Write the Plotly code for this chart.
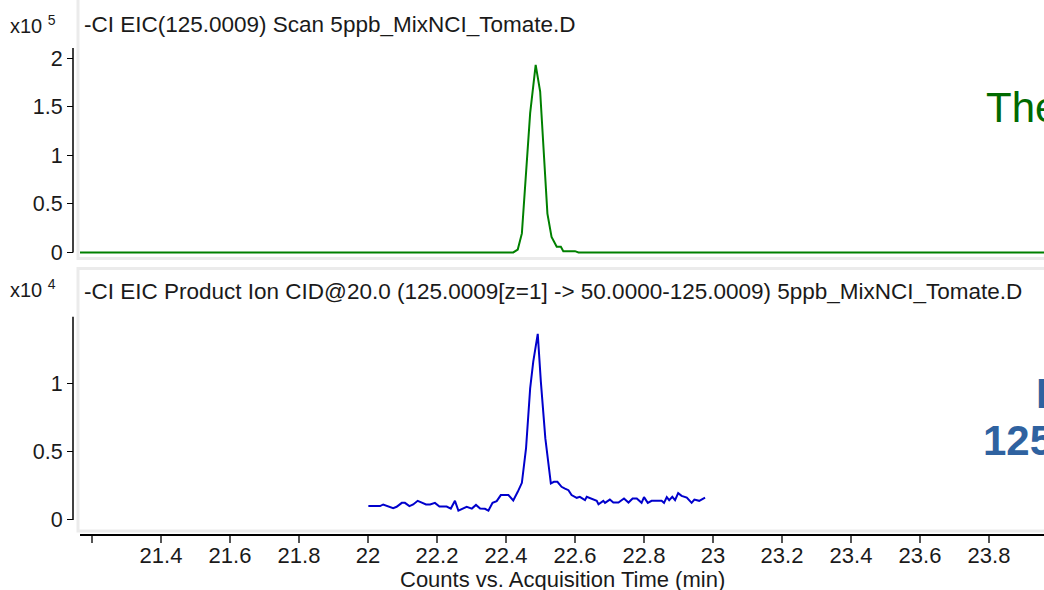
import plotly.graph_objects as go

# ---- data ----
# top: -CI EIC(125.0009) Scan (counts)
scan_time = [21.16, 22.421, 22.434, 22.446, 22.470, 22.486, 22.499, 22.520,
             22.532, 22.547, 22.559, 22.566, 22.600, 22.610, 24.0]
scan_counts = [0, 0, 3000, 19600, 143300, 193000, 165600, 40000,
               16000, 5800, 5800, 1300, 1300, 0, 0]

# bottom: -CI EIC Product Ion CID@20.0 (counts)
prod_time = [22.001, 22.035, 22.044, 22.059, 22.073, 22.083, 22.098, 22.107, 22.120, 22.131,
             22.144, 22.156, 22.168, 22.180, 22.194, 22.207, 22.228, 22.240, 22.252, 22.262,
             22.272, 22.286, 22.301, 22.313, 22.325, 22.339, 22.349, 22.361, 22.373, 22.385,
             22.407, 22.421, 22.434, 22.446, 22.458, 22.470, 22.479, 22.492, 22.501, 22.514,
             22.530, 22.539, 22.549, 22.561, 22.571, 22.581, 22.590, 22.605, 22.614, 22.629,
             22.634, 22.648, 22.663, 22.668, 22.682, 22.687, 22.701, 22.711, 22.726, 22.742,
             22.755, 22.767, 22.779, 22.793, 22.800, 22.811, 22.822, 22.851, 22.858, 22.866,
             22.873, 22.882, 22.890, 22.899, 22.909, 22.924, 22.938, 22.946, 22.960, 22.977]
prod_counts = [1010, 1010, 1130, 960, 860, 960, 1250, 1250, 1010, 1130,
               1400, 1270, 1130, 1130, 1250, 980, 980, 830, 1400, 680,
               790, 960, 830, 1100, 830, 810, 680, 1250, 1380, 1820,
               1820, 1420, 2060, 2720, 5240, 9650, 11620, 13650, 10150, 5980,
               2670, 2790, 2790, 2430, 2300, 2180, 1820, 1620, 1690, 1450,
               1690, 1570, 1400, 1150, 1400, 1250, 1490, 1270, 1270, 1570,
               1270, 1570, 1570, 1250, 1670, 1250, 1400, 1400, 1250, 1670,
               1450, 1690, 1450, 1960, 1760, 1640, 1250, 1490, 1400, 1640]

x_ticks = [21.2, 21.4, 21.6, 21.8, 22.0, 22.2, 22.4, 22.6, 22.8, 23.0, 23.2, 23.4, 23.6, 23.8]
x_tick_text = [" ", "21.4", "21.6", "21.8", "22", "22.2", "22.4", "22.6", "22.8", "23",
               "23.2", "23.4", "23.6", "23.8"]
top_ticks = [0, 50000, 100000, 150000, 200000]
top_tick_text = ["0", "0.5", "1", "1.5", "2"]
bot_ticks = [0, 5000, 10000]
bot_tick_text = ["0", "0.5", "1"]

top_title = "-CI EIC(125.0009) Scan 5ppb_MixNCI_Tomate.D"
bot_title = "-CI EIC Product Ion CID@20.0 (125.0009[z=1] -> 50.0000-125.0009) 5ppb_MixNCI_Tomate.D"
x_title = "Counts vs. Acquisition Time (min)"

# ---- layout in picture pixels ----
# the snapshot squeezes the page height a little, so the figure is drawn a bit taller
W, H = 1044, 590
H_FIG = 597
FONT = "Liberation Sans, Arial, sans-serif"
TXT = "#1a1a1a"


def px_x(p):
    return p / W


def px_y(p):
    return 1 - p / H


X_RANGE = [21.1652, 23.9594]
TOP_RANGE = [-7216, 210309]
BOT_RANGE = [-1029, 14926]

fig = go.Figure()
fig.add_trace(go.Scatter(x=scan_time, y=scan_counts, xaxis="x2", yaxis="y", mode="lines",
                         line=dict(color="#008000", width=2), hoverinfo="skip"))
fig.add_trace(go.Scatter(x=prod_time, y=prod_counts, xaxis="x", yaxis="y2", mode="lines",
                         line=dict(color="#0000cc", width=2), hoverinfo="skip"))

yax = dict(showgrid=False, zeroline=False, showline=False, ticks="outside", ticklen=6,
           tickcolor="#000", tickwidth=1, tickfont=dict(family=FONT, size=21.5, color=TXT),
           anchor="free", position=px_x(73), fixedrange=True)

fig.update_layout(
    width=W, height=H_FIG, margin=dict(l=0, r=0, t=0, b=0),
    paper_bgcolor="white", plot_bgcolor="rgba(0,0,0,0)", showlegend=False,
    xaxis=dict(domain=[px_x(80), 1], range=X_RANGE, anchor="y2", showgrid=False, zeroline=False,
               showline=True, linecolor="#000", linewidth=1.5, ticks="outside", ticklen=7,
               tickcolor="#555", tickwidth=1.5, tickvals=x_ticks, ticktext=x_tick_text,
               tickfont=dict(family=FONT, size=22, color=TXT), ticklabelstandoff=-6),
    xaxis2=dict(domain=[px_x(80), 1], range=X_RANGE, anchor="y", visible=False),
    yaxis=dict(domain=[px_y(258), px_y(47)], range=TOP_RANGE, tickvals=top_ticks,
               ticktext=top_tick_text, **yax),
    yaxis2=dict(domain=[px_y(532), px_y(315)], range=BOT_RANGE, tickvals=bot_ticks,
                ticktext=bot_tick_text, **yax),
)

# panel frames and y-axis lines
frame = dict(type="rect", xref="paper", yref="paper", line=dict(color="#ebebeb", width=3),
             fillcolor="rgba(0,0,0,0)", layer="below")
fig.add_shape(x0=px_x(78), x1=1.05, y0=px_y(257), y1=1.05, **frame)
fig.add_shape(x0=px_x(78), x1=1.05, y0=px_y(529), y1=px_y(267), **frame)
fig.add_shape(type="line", xref="paper", yref="y", x0=px_x(73), x1=px_x(73),
              y0=0, y1=TOP_RANGE[1], line=dict(color="#000", width=1.5))
fig.add_shape(type="line", xref="paper", yref="y2", x0=px_x(73), x1=px_x(73),
              y0=0, y1=BOT_RANGE[1], line=dict(color="#000", width=1.5))

ann = dict(xref="paper", yref="paper", showarrow=False, xanchor="left", yanchor="middle")
fig.add_annotation(x=px_x(8), y=px_y(23), text="x10 <sup>5</sup>",
                   font=dict(family=FONT, size=20, color=TXT), **ann)
fig.add_annotation(x=px_x(8), y=px_y(287), text="x10 <sup>4</sup>",
                   font=dict(family=FONT, size=20, color=TXT), **ann)
fig.add_annotation(x=px_x(82), y=px_y(23), text=top_title,
                   font=dict(family=FONT, size=22.5, color=TXT), **ann)
fig.add_annotation(x=px_x(82), y=px_y(290), text=bot_title,
                   font=dict(family=FONT, size=22.5, color=TXT), **ann)
fig.add_annotation(x=(px_x(80) + 1) / 2, y=px_y(578), text=x_title, xref="paper", yref="paper",
                   showarrow=False, xanchor="center", yanchor="middle",
                   font=dict(family=FONT, size=22, color=TXT))
# slide overlay text, cut at the right edge
fig.add_annotation(x=px_x(984), y=px_y(106), text="The",
                   font=dict(family=FONT, size=42, color="#006a00"), **ann)
fig.add_annotation(x=px_x(1034), y=px_y(392), text="<b>I</b>",
                   font=dict(family=FONT, size=42, color="#2f62a0"), **ann)
fig.add_annotation(x=px_x(981), y=px_y(439), text="<b>125</b>",
                   font=dict(family=FONT, size=42, color="#2f62a0"), **ann)

# no body margin, no scrollbars
page_css = (
    "var d=document.documentElement,b=document.body;"
    "[d,b].forEach(function(e){e.style.margin='0';e.style.padding='0';"
    "e.style.overflow='hidden';});"
)
fig.write_html("out.html", config=dict(displayModeBar=False, responsive=False),
               post_script=page_css)
